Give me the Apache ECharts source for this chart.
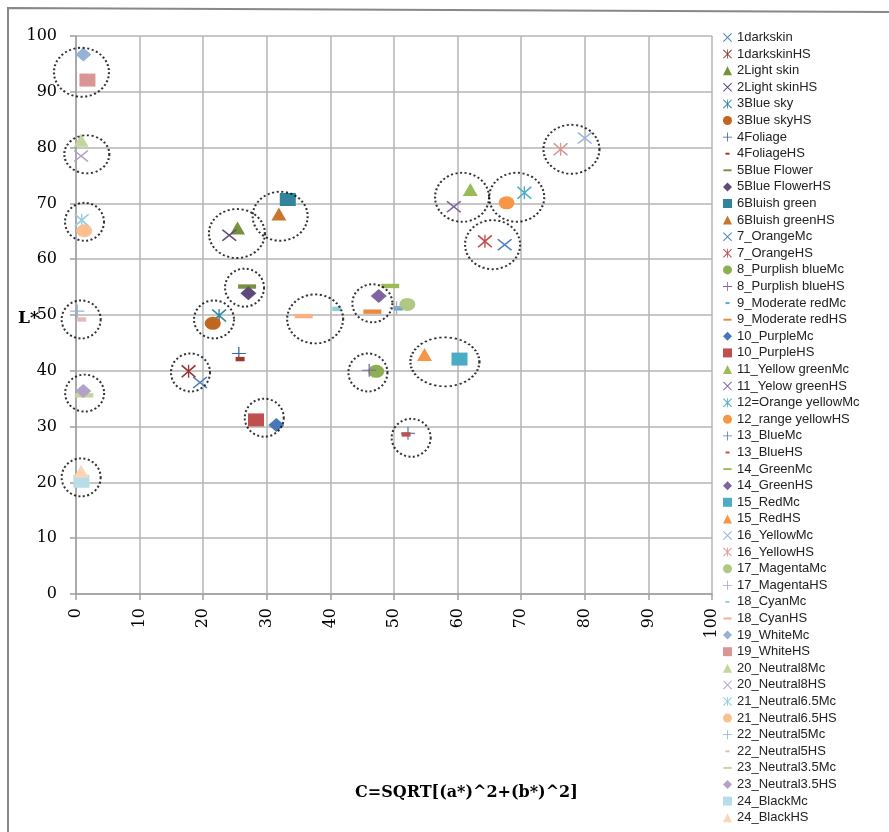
<!DOCTYPE html>
<html><head><meta charset="utf-8">
<script src="https://cdn.jsdelivr.net/npm/echarts@6/dist/echarts.min.js"></script>
<style>html,body{margin:0;padding:0;background:#fff}#c{width:889px;height:832px}</style>
</head><body><div id="c"></div>
<script>
// ---------- DATA ----------
const seriesNames = [
  '1darkskin','1darkskinHS','2Light skin','2Light skinHS','3Blue sky','3Blue skyHS',
  '4Foliage','4FoliageHS','5Blue Flower','5Blue FlowerHS','6Bluish green','6Bluish greenHS',
  '7_OrangeMc','7_OrangeHS','8_Purplish blueMc','8_Purplish blueHS','9_Moderate redMc','9_Moderate redHS',
  '10_PurpleMc','10_PurpleHS','11_Yellow greenMc','11_Yelow greenHS','12=Orange yellowMc','12_range yellowHS',
  '13_BlueMc','13_BlueHS','14_GreenMc','14_GreenHS','15_RedMc','15_RedHS',
  '16_YellowMc','16_YellowHS','17_MagentaMc','17_MagentaHS','18_CyanMc','18_CyanHS',
  '19_WhiteMc','19_WhiteHS','20_Neutral8Mc','20_Neutral8HS','21_Neutral6.5Mc','21_Neutral6.5HS',
  '22_Neutral5Mc','22_Neutral5HS','23_Neutral3.5Mc','23_Neutral3.5HS','24_BlackMc','24_BlackHS'
];
// C = SQRT[(a*)^2+(b*)^2]
const chromaC = [
  19.5, 17.7, 25.4, 24.1, 22.5, 21.5,
  25.6, 25.8, 26.9, 27.1, 33.3, 31.9,
  67.4, 64.3, 47.2, 46.1, 50.7, 46.6,
  31.5, 28.3, 62.0, 59.4, 70.5, 67.7,
  52.2, 51.9, 49.4, 47.6, 60.3, 54.8,
  80.0, 76.2, 52.1, 50.4, 41.0, 35.8,
  1.15, 1.8, 0.8, 0.8, 0.9, 1.3,
  0.2, 0.9, 1.3, 1.15, 0.85, 0.8
];
// L*
const lightnessL = [
  37.9, 39.9, 65.6, 64.3, 49.9, 48.5,
  43.1, 42.1, 55.1, 53.9, 70.7, 68.1,
  62.6, 63.2, 39.9, 40.1, 51.2, 50.6,
  30.3, 31.2, 72.5, 69.4, 71.9, 70.1,
  28.8, 28.6, 55.2, 53.4, 42.1, 42.9,
  81.7, 79.7, 51.9, 51.3, 51.1, 49.8,
  96.7, 92.1, 81.3, 78.5, 67.0, 65.1,
  50.7, 49.2, 35.6, 36.4, 20.2, 22.0
];
// annotation rings (centres in data units)
const ringC = [0.86, 1.7, 1.34, 25.3, 32.1, 26.5, 21.7, 37.6, 46.6, 45.9, 58.0, 52.7, 60.7, 69.3, 65.5, 77.9, 18.0, 29.6, 0.81, 1.36, 0.81];
const ringL = [93.5, 78.8, 66.7, 64.6, 67.7, 54.9, 49.2, 49.3, 52.1, 39.7, 41.6, 28.0, 71.1, 71.1, 62.6, 79.7, 39.7, 31.6, 49.2, 36.0, 20.9];
const xTicks = [0, 100, 10];
const yTicks = [0, 100, 10];

// ---------- STYLE ----------
const markerKinds = [
  'x','ast','tri','x','ast','circle','plus','sdash','ldash','diamond','rect','tri',
  'x','ast','circle','plus','sdash','ldash','diamond','rect','tri',
  'x','ast','circle','plus','sdash','ldash','diamond','rect','tri',
  'x','ast','circle','plus','sdash','ldash','diamond','rect','tri',
  'x','ast','circle','plus','sdash','ldash','diamond','rect','tri'
];
const markerColors = [
  '#4F81BD','#953735','#76923C','#5F497A','#31859C','#C0661E',
  '#3B64A0','#A0372F','#77933C','#5F497A','#31849B','#C87530',
  '#4F81BD','#C0504D','#8DAE52','#8064A2','#4BACC6','#EB8A3F',
  '#4577B9','#C0504D','#9BBB59','#8064A2','#4BACC6','#F79646',
  '#4F81BD','#C0504D','#9BBB59','#8064A2','#4BACC6','#F79646',
  '#95B3D7','#D99694','#AFC983','#B3A2C7','#93CDDD','#F9B082',
  '#95B3D7','#D99694','#C3D69B','#B3A2C7','#93CDDD','#FAC090',
  '#95B3D7','#E6B9B8','#C3D69B','#B3A2C7','#B7DEE8','#FCD5B5'
];
const ringSizes = [[55,49],[45,38],[39,38],[56,49],[55,49],[39,38],[40,38],[56,49],[40,38],[39,38],[69,49],[39,38],[54,49],[55,49],[55,49],[56,49],[39,38],[39,38],[39,38],[39,37],[39,38]];

const SYM = {
  x: 'path://M0,0M20,20M0,1.6L1.6,0L20,18.4L18.4,20ZM18.4,0L20,1.6L1.6,20L0,18.4Z',
  ast: 'path://M0,0M20,20M0,1.6L1.6,0L20,18.4L18.4,20ZM18.4,0L20,1.6L1.6,20L0,18.4ZM9.1,0L10.9,0L10.9,20L9.1,20Z',
  plus: 'path://M0,0M20,20M9.1,0L10.9,0L10.9,20L9.1,20ZM0,9.1L20,9.1L20,10.9L0,10.9Z',
  sdash: 'path://M0,0M20,20M5.5,7.8L14.5,7.8L14.5,12.2L5.5,12.2Z',
  ldash: 'path://M0,0M20,20M1,7.8L19,7.8L19,12.2L1,12.2Z',
  tri: 'triangle', rect: 'rect', diamond: 'diamond', circle: 'circle'
};
const SIZE = {x:[15,12], ast:[15,13], plus:[14,13], sdash:[20,20], ldash:[20,20], tri:[15,13], rect:[16,13], diamond:[16,14], circle:[16,13]};

const serif = 'DejaVu Serif';
const axisGray = '#A0A0A0';

const series = seriesNames.map((name, i) => ({
  name: name,
  type: 'scatter',
  symbol: SYM[markerKinds[i]],
  symbolSize: SIZE[markerKinds[i]],
  itemStyle: { color: markerColors[i], opacity: 1 },
  data: [[chromaC[i], lightnessL[i]]],
  z: 3
}));
series.push({
  name: 'rings',
  type: 'scatter',
  silent: true,
  symbol: 'circle',
  symbolSize: (v, p) => ringSizes[p.dataIndex],
  itemStyle: { color: 'rgba(0,0,0,0)', borderColor: '#000', borderWidth: 2, borderType: [2, 2.4] },
  data: ringC.map((c, i) => [c, ringL[i]]),
  z: 4
});

const chart = echarts.init(document.getElementById('c'), null, { renderer: 'canvas' });
chart.setOption({
  animation: false,
  backgroundColor: '#fff',
  graphic: [{
    type: 'polyline', silent: true,
    shape: { points: [[8, 840], [8, 8], [900, 12]] },
    style: { stroke: '#888', lineWidth: 2, fill: null }
  }],
  title: [
    { text: 'L*', left: 13, top: 305, textStyle: { fontFamily: serif, fontWeight: 'bold', fontSize: 17, color: '#000' } },
    { text: 'C=SQRT[(a*)^2+(b*)^2]', left: 350, top: 780, textStyle: { fontFamily: serif, fontWeight: 'bold', fontSize: 16, color: '#000' } }
  ],
  grid: { left: 76, right: 177, top: 36, bottom: 238, containLabel: false },
  xAxis: {
    type: 'value', min: xTicks[0], max: xTicks[1], interval: xTicks[2],
    axisLine: { show: true, lineStyle: { color: axisGray, width: 1.5 } },
    axisTick: { show: true, length: 6, lineStyle: { color: axisGray, width: 1.5 } },
    splitLine: { show: true, lineStyle: { color: '#B4B4B4', width: 1.5 } },
    axisLabel: { rotate: 90, margin: 14, fontFamily: serif, fontSize: 16, color: '#000' }
  },
  yAxis: {
    type: 'value', min: yTicks[0], max: yTicks[1], interval: yTicks[2],
    axisLine: { show: true, lineStyle: { color: axisGray, width: 1.5 } },
    axisTick: { show: true, length: 6, lineStyle: { color: axisGray, width: 1.5 } },
    splitLine: { show: true, lineStyle: { color: '#B4B4B4', width: 1.5 } },
    axisLabel: { margin: 19, fontFamily: serif, fontSize: 16, color: '#000' }
  },
  legend: {
    type: 'plain',
    orient: 'vertical', left: 723, top: 31, padding: 0,
    data: seriesNames,
    itemWidth: 9, itemHeight: 9, itemGap: 3.6,
    selectedMode: false,
    textStyle: { fontFamily: 'Liberation Sans', fontSize: 13, lineHeight: 13, color: '#222' }
  },
  series: series
});
</script></body></html>
